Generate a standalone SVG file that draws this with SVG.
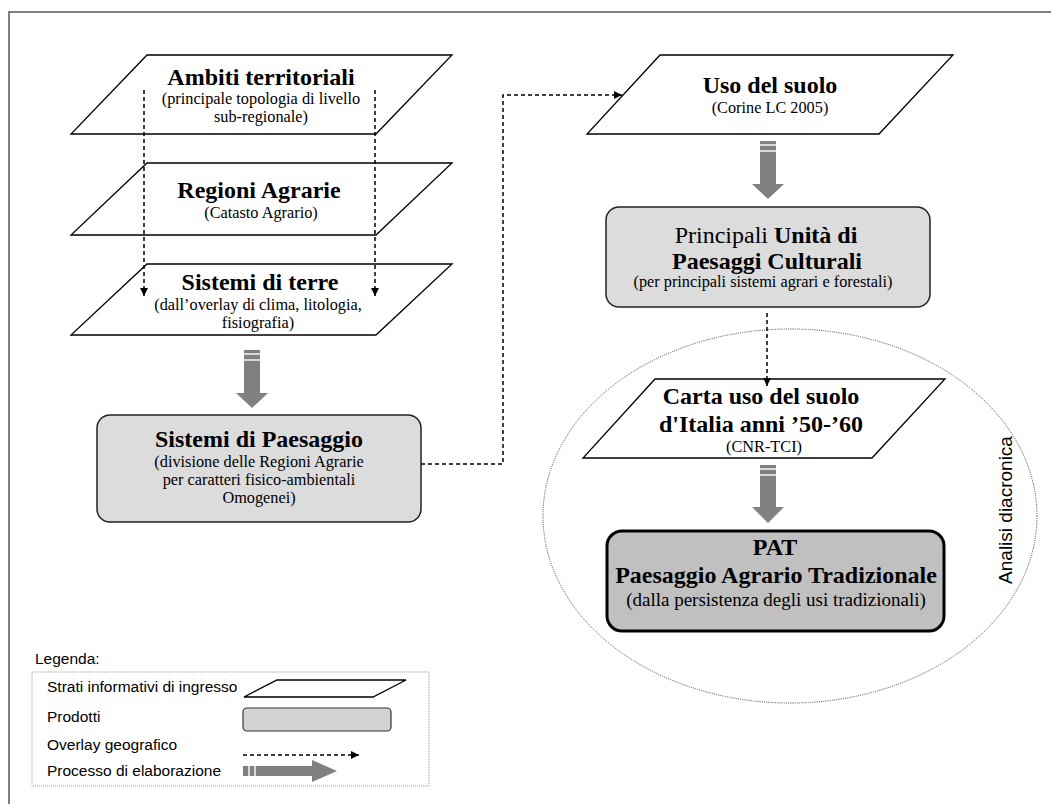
<svg xmlns="http://www.w3.org/2000/svg" width="1051" height="804" viewBox="0 0 1051 804">
<defs>
<style>
.t{font-family:"Liberation Serif","Times New Roman",serif;font-weight:bold;font-size:24px;text-anchor:middle;fill:#000}
.s{font-family:"Liberation Serif","Times New Roman",serif;font-size:16.3px;text-anchor:middle;fill:#000}
.r{font-weight:normal}
.para{fill:#fff;stroke:#000;stroke-width:1.3}
.prod{fill:#dcdcdc;stroke:#222;stroke-width:1.5}
.dash{fill:none;stroke:#000;stroke-width:1.5;stroke-dasharray:4 3}
.dk{fill:#808080}
.lt{fill:#d8d8d8}
.leg{font-family:"Liberation Sans",Arial,sans-serif;font-size:15.5px;fill:#000}
</style>
<marker id="ah" viewBox="0 0 10 10" refX="10" refY="5" markerWidth="8" markerHeight="8" markerUnits="userSpaceOnUse" orient="auto">
<path d="M0,0 L10,5 L0,10 z" fill="#000"/>
</marker>
</defs>
<rect x="0" y="0" width="1051" height="804" fill="#fff"/>
<path d="M9,804 V12 H1051" fill="none" stroke="#808080" stroke-width="2"/>

<g id="ellipse-diacronica">
<ellipse cx="790" cy="516" rx="247" ry="187" fill="none" stroke="#333" stroke-width="0.9" stroke-dasharray="1 1.2"/>
<text class="leg" style="font-size:19px" text-anchor="middle" transform="translate(1012,510) rotate(-90)">Analisi diacronica</text>
</g>

<g id="ambiti">
<polygon class="para" points="147,55 452,55 376,134 71,134"/>
<text class="t" x="261" y="85">Ambiti territoriali</text>
<text class="s" x="261" y="104">(principale topologia di livello</text>
<text class="s" x="261" y="122">sub-regionale)</text>
</g>

<g id="regioni">
<polygon class="para" points="147,163 452,163 376,235 71,235"/>
<text class="t" x="259" y="198">Regioni Agrarie</text>
<text class="s" x="261" y="218">(Catasto Agrario)</text>
</g>

<g id="sistemi-terre">
<polygon class="para" points="147,264 452,264 376,335 71,335"/>
<text class="t" x="260" y="290">Sistemi di terre</text>
<text class="s" x="258" y="310">(dall’overlay di clima, litologia,</text>
<text class="s" x="258" y="328">fisiografia)</text>
</g>

<g id="sistemi-paesaggio">
<rect class="prod" x="97" y="415" width="324" height="107" rx="13"/>
<text class="t" x="259" y="447">Sistemi di Paesaggio</text>
<text class="s" x="259" y="467">(divisione delle Regioni Agrarie</text>
<text class="s" x="259" y="485">per caratteri fisico-ambientali</text>
<text class="s" x="259" y="503">Omogenei)</text>
</g>

<g id="uso-suolo">
<polygon class="para" points="660,55 953,55 879,134 587,134"/>
<text class="t" x="770" y="93">Uso del suolo</text>
<text class="s" x="770" y="113">(Corine LC 2005)</text>
</g>

<g id="unita-paesaggi">
<rect class="prod" x="606" y="207" width="324" height="100" rx="13"/>
<text class="t" x="766" y="243"><tspan class="r">Principali </tspan>Unità di</text>
<text class="t" x="767" y="269">Paesaggi Culturali</text>
<text class="s" x="763" y="287">(per principali sistemi agrari e forestali)</text>
</g>

<g id="carta-uso">
<polygon class="para" points="655,379 945,379 872,458 583,458"/>
<text class="t" x="761" y="404">Carta uso del suolo</text>
<text class="t" x="761" y="432">d'Italia anni ’50-’60</text>
<text class="s" x="764" y="452">(CNR-TCI)</text>
</g>

<g id="pat">
<rect x="607" y="531" width="337" height="100" rx="15" fill="#c0c0c0" stroke="#000" stroke-width="3"/>
<text class="t" x="775" y="555">PAT</text>
<text class="t" x="776" y="583">Paesaggio Agrario Tradizionale</text>
<text class="s" style="font-size:19px" x="776" y="606">(dalla persistenza degli usi tradizionali)</text>
</g>

<g id="connectors">
<path class="dash" d="M144,90 V296" marker-end="url(#ah)"/>
<path class="dash" d="M375,90 V296" marker-end="url(#ah)"/>
<path class="dash" d="M421,464 H503 V95 H622" marker-end="url(#ah)"/>
<path class="dash" d="M767,313 V386" marker-end="url(#ah)"/>
<g id="proc1">
<rect class="dk" x="244" y="350" width="16" height="3"/>
<rect class="lt" x="244" y="353" width="16" height="2"/>
<rect class="dk" x="244" y="355" width="16" height="4"/>
<rect class="lt" x="244" y="359" width="16" height="2"/>
<rect class="dk" x="244" y="361" width="16" height="33"/>
<polygon class="dk" points="236,393 268,393 252,408"/>
</g>
<g id="proc2">
<rect class="dk" x="760" y="141" width="16" height="3"/>
<rect class="lt" x="760" y="144" width="16" height="2"/>
<rect class="dk" x="760" y="146" width="16" height="4"/>
<rect class="lt" x="760" y="150" width="16" height="2"/>
<rect class="dk" x="760" y="152" width="16" height="33"/>
<polygon class="dk" points="752,184 784,184 768,199"/>
</g>
<g id="proc3">
<rect class="dk" x="760" y="465" width="16" height="3"/>
<rect class="lt" x="760" y="468" width="16" height="2"/>
<rect class="dk" x="760" y="470" width="16" height="4"/>
<rect class="lt" x="760" y="474" width="16" height="2"/>
<rect class="dk" x="760" y="476" width="16" height="32"/>
<polygon class="dk" points="752,507 784,507 768,523"/>
</g>
</g>

<g id="legend">
<text class="leg" x="35" y="664">Legenda:</text>
<rect x="32" y="672" width="397" height="114" fill="none" stroke="#999" stroke-width="1" stroke-dasharray="1 1"/>
<text class="leg" x="47" y="692">Strati informativi di ingresso</text>
<polygon class="para" points="277,680 406,680 373,697 244,697"/>
<text class="leg" x="47" y="722">Prodotti</text>
<rect x="243" y="708" width="148" height="23" rx="4" fill="#d3d3d3" stroke="#333" stroke-width="1.2"/>
<text class="leg" x="47" y="750">Overlay geografico</text>
<path class="dash" d="M243,755 H359" marker-end="url(#ah)"/>
<text class="leg" x="47" y="776">Processo di elaborazione</text>
<rect class="dk" x="243" y="766" width="5" height="10"/>
<rect class="lt" x="248" y="766" width="2" height="10"/>
<rect class="dk" x="250" y="766" width="4" height="10"/>
<rect class="lt" x="254" y="766" width="2" height="10"/>
<rect class="dk" x="256" y="766" width="57" height="10"/>
<polygon class="dk" points="312,760 312,782 337,771"/>
</g>
</svg>
